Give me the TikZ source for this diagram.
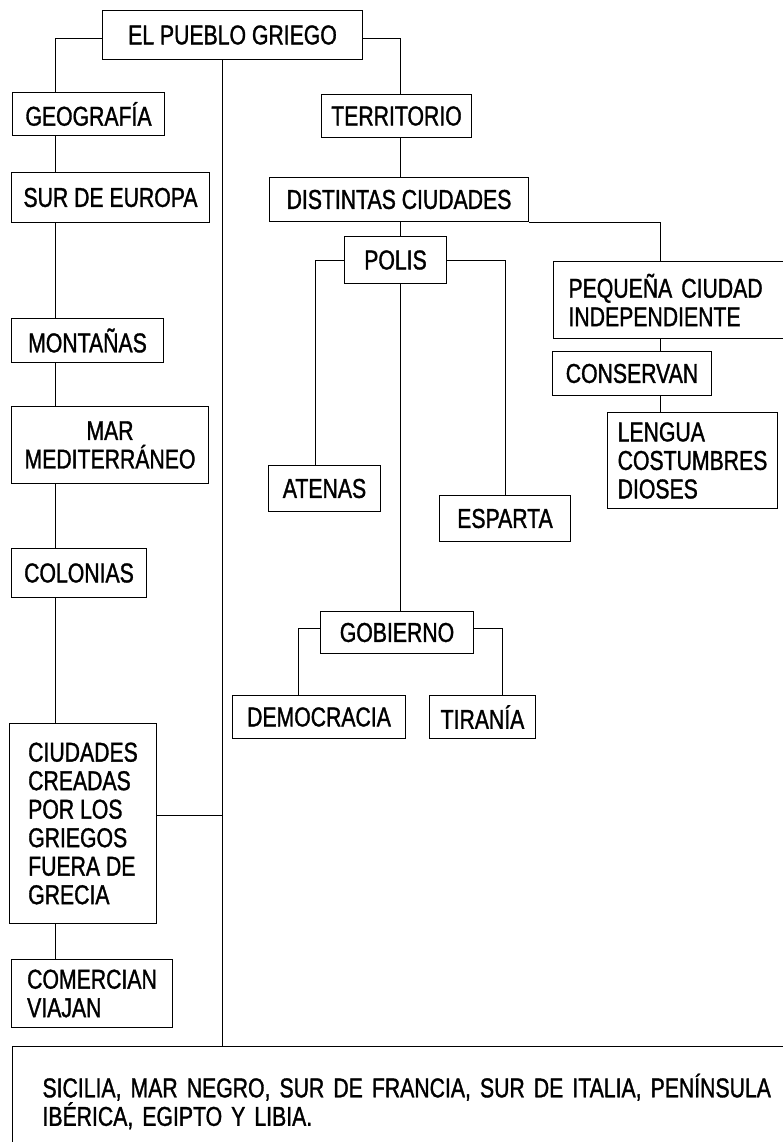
\documentclass[tikz,border=0pt]{standalone}
\usepackage{fontspec}
\usepackage{tikz}
\usetikzlibrary{calc}
\newfontfamily\condfont{Liberation Sans}[FakeStretch=0.78,FakeBold=1.2]
\tikzset{
  caja/.style 2 args={draw, line width=1pt, anchor=north west, inner sep=0pt,
    align=left, minimum width=#1pt, minimum height=#2pt,
    font=\condfont\fontsize{27.2}{28.5}\selectfont},
  linea/.style={line width=1pt}
}

\begin{document}
\begin{tikzpicture}[x=1pt,y=-1pt]
  % frame
  \useasboundingbox (0,0) rectangle (783,1142);
  \clip (0,0) rectangle (783,1142);
  % line positions
  \coordinate (lizq) at (55,0);  % left chain
  \coordinate (leje) at (222,0); % main line
  \coordinate (lter) at (400,0); % territorio - gobierno
  \coordinate (lpeq) at (660,0); % pequena ciudad
  \coordinate (late) at (315,0);
  \coordinate (lesp) at (505,0);
  \coordinate (ldem) at (298,0);
  \coordinate (ltir) at (502,0);
  % title
  \node[caja={260}{49}] (pueblo) at (102,10) {EL PUEBLO GRIEGO};
  % left column
  \node[caja={152}{43}] (geografia) at (12,92) {GEOGRAFÍA};
  \node[caja={198}{50}] (sur) at (11,172) {SUR DE EUROPA};
  \node[caja={152}{44}] (montanas) at (11,318) {MONTAÑAS};
  \node[caja={197}{77}, align=center] (mar) at (11,406) {MAR\\MEDITERRÁNEO};
  \node[caja={135}{49}] (colonias) at (11,548) {COLONIAS};
  \node[caja={147}{200}] (ciudades) at (9,723) {CIUDADES\\CREADAS\\POR LOS\\GRIEGOS\\FUERA DE\\GRECIA};
  \node[caja={161}{68}] (comercian) at (11,959) {COMERCIAN\\VIAJAN};
  % right side
  \node[caja={150}{43}] (territorio) at (321,94) {TERRITORIO};
  \node[caja={259}{44}] (distintas) at (269,177) {DISTINTAS CIUDADES};
  \node[caja={102}{47}] (polis) at (344,236) {POLIS};
  \node[caja={250}{77}, text width=220pt, inner xsep=15pt] (pequena) at (553,261) {PEQUEÑA CIUDAD\\INDEPENDIENTE};
  \node[caja={159}{44}] (conservan) at (552,351) {CONSERVAN};
  \node[caja={170}{96}] (lengua) at (607,412) {LENGUA\\COSTUMBRES\\DIOSES};
  \node[caja={112}{46}] (atenas) at (268,465) {ATENAS};
  \node[caja={131}{46}] (esparta) at (439,495) {ESPARTA};
  \node[caja={153}{42}] (gobierno) at (320,611) {GOBIERNO};
  \node[caja={173}{43}] (democracia) at (232,695) {DEMOCRACIA};
  \node[caja={106}{43}] (tirania) at (429,695) {TIRANÍA};
  % bottom box
  \node[caja={800}{110}, text width=740pt, inner xsep=23pt] (abajo) at (12,1046)
    {SICILIA, MAR NEGRO, SUR DE FRANCIA, SUR DE ITALIA, PENÍNSULA\\IBÉRICA, EGIPTO Y LIBIA.};
  % connectors
  \draw[linea] ([yshift=-4pt]pueblo.west) -| (lizq |- geografia.north);
  \draw[linea] ([yshift=-4pt]pueblo.east) -| (lter |- territorio.north);
  \draw[linea] (leje |- pueblo.south) -- (leje |- abajo.north);
  \draw[linea] ([yshift=8pt]ciudades.east) -- ([yshift=8pt]ciudades.east -| leje);
  \foreach \a/\b in {geografia/sur, sur/montanas, montanas/mar, mar/colonias,
                     colonias/ciudades, ciudades/comercian}
    \draw[linea] (lizq |- \a.south) -- (lizq |- \b.north);
  \foreach \a/\b in {territorio/distintas, distintas/polis, polis/gobierno}
    \draw[linea] (lter |- \a.south) -- (lter |- \b.north);
  \draw[linea] (distintas.south east) -| (lpeq |- pequena.north);
  \draw[linea] (lpeq |- pequena.south) -- (lpeq |- conservan.north);
  \draw[linea] (lpeq |- conservan.south) -- (lpeq |- lengua.north);
  \draw[linea] (polis.west) -| (late |- atenas.north);
  \draw[linea] (polis.east) -| (lesp |- esparta.north);
  \draw[linea] ([yshift=4pt]gobierno.west) -| (ldem |- democracia.north);
  \draw[linea] ([yshift=4pt]gobierno.east) -| (ltir |- tirania.north);
\end{tikzpicture}
\end{document}
